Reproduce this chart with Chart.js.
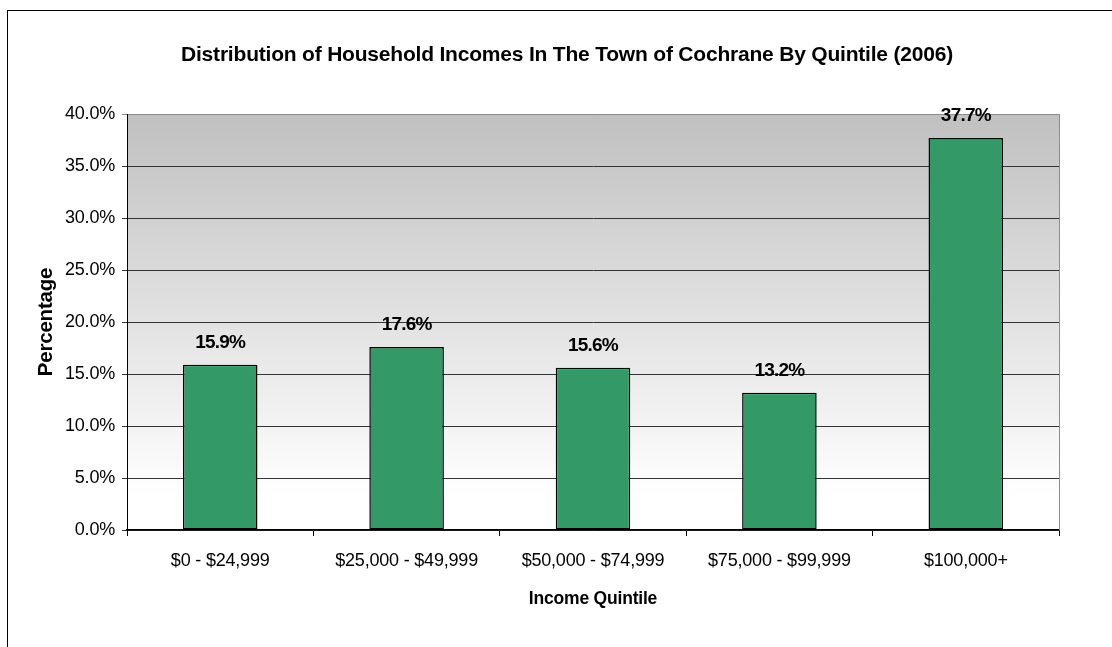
<!DOCTYPE html>
<html>
<head>
<meta charset="utf-8">
<script src="https://cdn.jsdelivr.net/npm/chart.js@4"></script>
<style>
  html, body { margin: 0; padding: 0; background: #fff; }
  #wrap { width: 1112px; height: 647px; }
</style>
</head>
<body>
<div id="wrap"><canvas id="incomeChart" width="1112" height="647"></canvas></div>
<script>
const quintiles = ['$0 - $24,999', '$25,000 - $49,999', '$50,000 - $74,999', '$75,000 - $99,999', '$100,000+'];
const shares = [15.9, 17.6, 15.6, 13.2, 37.7];
const yTicks = [0, 5, 10, 15, 20, 25, 30, 35, 40];

const chartTitle = 'Distribution of Household Incomes In The Town of Cochrane By Quintile (2006)';
const FONT = '"Liberation Sans", Arial, sans-serif';

// frame, plot gradient and the heading
const backdrop = {
  id: 'backdrop',
  beforeDraw(chart) {
    const { ctx, chartArea: a } = chart;
    ctx.save();
    ctx.strokeStyle = '#000';
    ctx.lineWidth = 1;
    ctx.strokeRect(7.5, 10.5, 1200, 800);

    const g = ctx.createLinearGradient(0, a.top, 0, a.bottom);
    g.addColorStop(0, '#c0c0c0');
    g.addColorStop(0.92, '#ffffff');
    g.addColorStop(1, '#ffffff');
    ctx.fillStyle = g;
    ctx.fillRect(a.left, a.top, a.right - a.left, a.bottom - a.top);

    ctx.fillStyle = '#000';
    ctx.font = 'bold 21px ' + FONT;
    ctx.letterSpacing = '-0.2px';
    ctx.textAlign = 'center';
    ctx.textBaseline = 'alphabetic';
    ctx.fillText(chartTitle, 567, 61);
    ctx.restore();
    ctx.letterSpacing = '-0.2px';
  },
  afterDraw(chart) {
    const { ctx, chartArea: a } = chart;
    ctx.save();
    ctx.strokeStyle = '#8c8c8c';
    ctx.lineWidth = 1;
    ctx.beginPath();
    ctx.moveTo(a.right + 0.5, a.top);
    ctx.lineTo(a.right + 0.5, a.bottom);
    ctx.stroke();
    ctx.restore();
  }
};

// percentage printed above each bar
const barValues = {
  id: 'barValues',
  afterDatasetsDraw(chart) {
    const { ctx } = chart;
    const meta = chart.getDatasetMeta(0);
    ctx.save();
    ctx.font = 'bold 19px ' + FONT;
    ctx.letterSpacing = '-0.8px';
    ctx.fillStyle = '#000';
    ctx.textAlign = 'center';
    ctx.textBaseline = 'middle';
    meta.data.forEach((bar, i) => {
      ctx.fillText(shares[i].toFixed(1) + '%', bar.x, bar.y - 22);
    });
    ctx.restore();
  }
};

new Chart(document.getElementById('incomeChart'), {
  type: 'bar',
  data: {
    labels: quintiles,
    datasets: [{
      data: shares,
      backgroundColor: '#339966',
      borderColor: '#000',
      borderWidth: 1.5,
      borderSkipped: false,
      categoryPercentage: 1,
      barPercentage: 0.4
    }]
  },
  options: {
    responsive: false,
    animation: false,
    devicePixelRatio: 1,
    layout: { padding: { top: 114, right: 53, bottom: 37, left: 34 } },
    plugins: {
      legend: { display: false },
      tooltip: { enabled: false },
      title: { display: false }
    },
    scales: {
      x: {
        offset: true,
        grid: {
          offset: true,
          drawOnChartArea: false,
          tickLength: 6,
          color: '#000'
        },
        border: { color: '#000', width: 1.5 },
        ticks: {
          color: '#000',
          padding: 14,
          maxRotation: 0,
          font: { family: FONT, size: 18 }
        },
        title: {
          display: true,
          text: 'Income Quintile',
          color: '#000',
          padding: 0,
          font: { family: FONT, size: 17.5, weight: 'bold' }
        },
        afterFit(scale) { scale.height = 80; }
      },
      y: {
        min: 0,
        max: 40,
        afterBuildTicks(scale) { scale.ticks = yTicks.map(v => ({ value: v })); },
        grid: {
          tickLength: 5,
          color: ctx => (ctx.tick && ctx.tick.value === 40 ? '#8c8c8c' : '#333333')
        },
        border: { color: '#000', width: 1 },
        ticks: {
          color: '#000',
          padding: 7,
          font: { family: FONT, size: 18 },
          callback: v => v.toFixed(1) + '%'
        },
        title: {
          display: true,
          text: 'Percentage',
          color: '#000',
          padding: 0,
          font: { family: FONT, size: 20.5, weight: 'bold' }
        },
        afterFit(scale) { scale.width = 93; }
      }
    }
  },
  plugins: [backdrop, barValues]
});
</script>
</body>
</html>
